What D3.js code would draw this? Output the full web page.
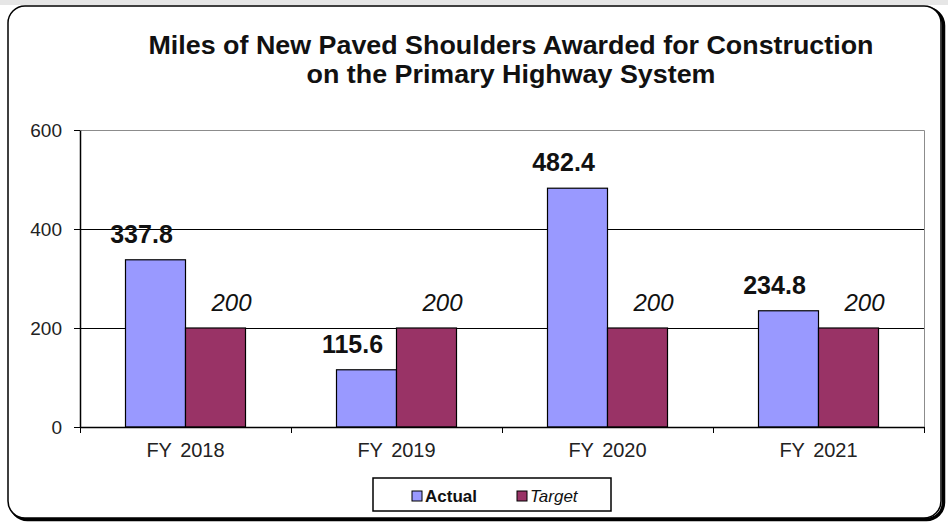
<!DOCTYPE html>
<html>
<head>
<meta charset="utf-8">
<script src="https://cdn.jsdelivr.net/npm/d3@7"></script>
<style>
  html, body { margin: 0; padding: 0; background: #fff; }
  svg { display: block; font-family: "Liberation Sans", Arial, sans-serif; }
</style>
</head>
<body>
<div id="chart"></div>
<script>
const categories = ["FY 2018", "FY 2019", "FY 2020", "FY 2021"]
const series = ["Actual", "Target"]
const actualValues = [337.8, 115.6, 482.4, 234.8]
const targetValues = [200, 200, 200, 200]
const yTicks = [0, 200, 400, 600]
const titleLines = ["Miles of New Paved Shoulders Awarded for Construction", "on the Primary Highway System"]

const colors = {Actual: "#9999ff", Target: "#993366"}
const width = 948, height = 523
const plot = {left: 80, right: 924, top: 130, bottom: 427}
const font = "Liberation Sans, Arial, sans-serif"

const rows = categories.map((c, i) => ({cat: c, Actual: actualValues[i], Target: targetValues[i]}))

const svg = d3.select("#chart").append("svg")
  .attr("width", width)
  .attr("height", height)

// frame with drop shadow on right/bottom
svg.append("rect").attr("x", 0).attr("y", 0).attr("width", width).attr("height", 5).attr("fill", "#e6e6e6")
svg.append("rect")
  .attr("x", 10.5).attr("y", 8.5).attr("width", 933).attr("height", 511)
  .attr("rx", 17).attr("fill", "none").attr("stroke", "#000").attr("stroke-width", 3.5)
svg.append("rect")
  .attr("x", 8).attr("y", 6).attr("width", 933).attr("height", 512)
  .attr("rx", 17).attr("fill", "#fff").attr("stroke", "#000").attr("stroke-width", 1.5)

// title (Excel renders it a bit condensed)
const titleWidths = [725, 409]
svg.append("g").selectAll("text")
  .data(titleLines)
  .join("text")
    .attr("x", 511)
    .attr("y", (d, i) => 54 + i * 29)
    .attr("text-anchor", "middle")
    .attr("font-size", 26)
    .attr("font-weight", "bold")
    .attr("fill", "#111")
    .attr("textLength", (d, i) => titleWidths[i])
    .attr("lengthAdjust", "spacingAndGlyphs")
    .text(d => d)

const x0 = d3.scaleBand()
  .domain(categories)
  .range([plot.left, plot.right])
  .paddingInner(91 / 211)
  .paddingOuter(91 / 422)

const x1 = d3.scaleBand()
  .domain(series)
  .range([0, x0.bandwidth()])

const y = d3.scaleLinear()
  .domain([0, 600])
  .range([plot.bottom, plot.top])

const crisp = v => Math.round(v) + 0.5

// plot border + grid
svg.append("path")
  .attr("d", `M${crisp(plot.left)},${crisp(plot.top)}H${crisp(plot.right)}V${plot.bottom}`)
  .attr("fill", "none").attr("stroke", "#8c8c8c").attr("stroke-width", 1)

svg.append("g").selectAll("line")
  .data(yTicks.filter(d => d > 0 && d < 600))
  .join("line")
    .attr("x1", plot.left).attr("x2", plot.right)
    .attr("y1", d => crisp(y(d))).attr("y2", d => crisp(y(d)))
    .attr("stroke", "#000").attr("stroke-width", 1)

// bars
const groups = svg.append("g").selectAll("g")
  .data(rows)
  .join("g")
    .attr("transform", d => `translate(${x0(d.cat)},0)`)

groups.selectAll("rect")
  .data(d => series.map(s => ({s, v: d[s]})))
  .join("rect")
    .attr("x", d => x1(d.s))
    .attr("y", d => y(d.v))
    .attr("width", x1.bandwidth())
    .attr("height", d => y(0) - y(d.v))
    .attr("fill", d => colors[d.s])
    .attr("stroke", "#000")
    .attr("stroke-width", 1.2)

groups.selectAll("text")
  .data(d => series.map(s => ({s, v: d[s]})))
  .join("text")
    .attr("x", d => x1(d.s) + x1.bandwidth() / 2 + (d.s == "Actual" ? -14 : 16))
    .attr("y", d => y(d.v) - 17)
    .attr("text-anchor", "middle")
    .attr("font-size", d => d.s == "Actual" ? 25 : 24)
    .attr("font-weight", d => d.s == "Actual" ? "bold" : "normal")
    .attr("font-style", d => d.s == "Target" ? "italic" : "normal")
    .attr("fill", "#111")
    .text(d => d.s == "Actual" ? d3.format(".1f")(d.v) : d.v)

// axes
const yAxis = svg.append("g")
  .attr("transform", `translate(${plot.left},0)`)
  .call(d3.axisLeft(y).tickValues(yTicks).tickSize(6).tickPadding(12).tickSizeOuter(0))
yAxis.select(".domain").attr("stroke", "#000").attr("stroke-width", 1.5)
yAxis.selectAll(".tick line").attr("stroke", "#000")
yAxis.selectAll(".tick text").attr("font-size", 19).attr("fill", "#222").attr("font-family", font)

const xAxis = svg.append("g")
  .attr("transform", `translate(0,${plot.bottom})`)
  .call(d3.axisBottom(x0).tickSize(0).tickPadding(16))
xAxis.select(".domain").attr("stroke", "#000").attr("stroke-width", 1.5)
xAxis.selectAll(".tick text").attr("font-size", 20).attr("fill", "#222").attr("font-family", font)
  .attr("word-spacing", 3)

// category separators
svg.append("g").selectAll("line")
  .data(d3.range(categories.length + 1))
  .join("line")
    .attr("x1", i => crisp(plot.left + i * x0.step()))
    .attr("x2", i => crisp(plot.left + i * x0.step()))
    .attr("y1", plot.bottom).attr("y2", plot.bottom + 6)
    .attr("stroke", "#000")

// legend
const legend = svg.append("g").attr("transform", "translate(373,478)")
legend.append("rect")
  .attr("width", 238).attr("height", 33)
  .attr("fill", "#fff").attr("stroke", "#000").attr("stroke-width", 1.5)
const items = legend.selectAll("g.item")
  .data(series)
  .join("g")
    .attr("class", "item")
    .attr("transform", (d, i) => `translate(${39 + i * 105},18)`)
items.append("rect")
  .attr("x", 0).attr("y", -5).attr("width", 10).attr("height", 10)
  .attr("fill", d => colors[d]).attr("stroke", "#000").attr("stroke-width", 1)
items.append("text")
  .attr("x", 13).attr("y", 6)
  .attr("font-size", 17)
  .attr("font-weight", d => d == "Actual" ? "bold" : "normal")
  .attr("font-style", d => d == "Target" ? "italic" : "normal")
  .attr("fill", "#111")
  .text(d => d)
</script>
</body>
</html>
